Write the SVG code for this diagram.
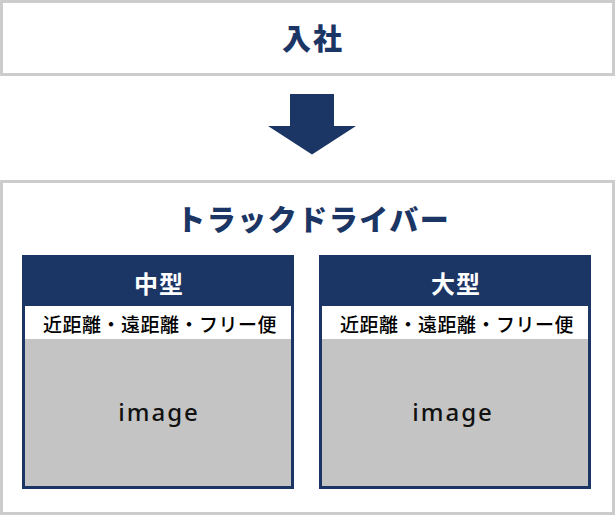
<svg xmlns="http://www.w3.org/2000/svg" width="615" height="515" viewBox="0 0 615 515">
<style>
.box{fill:#ffffff;stroke:#cccccc;stroke-width:3}
.card{fill:#c4c4c4;stroke:#1b3564;stroke-width:3}
.hdr{fill:#1b3564}
.strip{fill:#ffffff}
.ttl{font-family:"Noto Sans CJK JP","Noto Sans",sans-serif;font-weight:900;fill:#1b3564;text-anchor:middle}
.htx{font-family:"Noto Sans CJK JP","Noto Sans",sans-serif;font-weight:700;fill:#ffffff;font-size:24px;letter-spacing:1px;text-anchor:middle}
.sub{font-family:"Noto Sans CJK JP","Noto Sans",sans-serif;font-weight:500;fill:#000000;font-size:19px;letter-spacing:0.5px;text-anchor:middle}
.img{font-family:"Noto Sans","Noto Sans CJK JP",sans-serif;font-weight:500;fill:#111111;font-size:24px;letter-spacing:2px;text-anchor:middle}
</style>
<g id="join">
<rect class="box" x="1.5" y="1.5" width="612" height="73"/>
<text class="ttl" x="313" y="50" font-size="29" letter-spacing="2">入社</text>
</g>
<g id="connectors">
<polygon fill="#1b3564" points="290,94 334,94 334,126 356,126 312,154.5 268,126 290,126"/>
</g>
<g id="driver">
<rect class="box" x="1.5" y="181.5" width="612" height="332"/>
<text class="ttl" x="313.2" y="231" font-size="29" letter-spacing="1.5">トラックドライバー</text>
</g>
<g id="medium">
<rect class="card" x="23.5" y="256.5" width="269" height="231"/>
<rect class="hdr" x="23.5" y="256.5" width="269" height="49.5"/>
<rect class="strip" x="25" y="306" width="266" height="33"/>
<text class="htx" x="159" y="293">中型</text>
<text class="sub" x="160" y="331.5">近距離・遠距離・フリー便</text>
<text class="img" x="159" y="421">image</text>
</g>
<g id="large">
<rect class="card" x="320.5" y="256.5" width="269" height="231"/>
<rect class="hdr" x="320.5" y="256.5" width="269" height="49.5"/>
<rect class="strip" x="322" y="306" width="266" height="33"/>
<text class="htx" x="456" y="293">大型</text>
<text class="sub" x="457" y="331.5">近距離・遠距離・フリー便</text>
<text class="img" x="453" y="421">image</text>
</g>
</svg>
